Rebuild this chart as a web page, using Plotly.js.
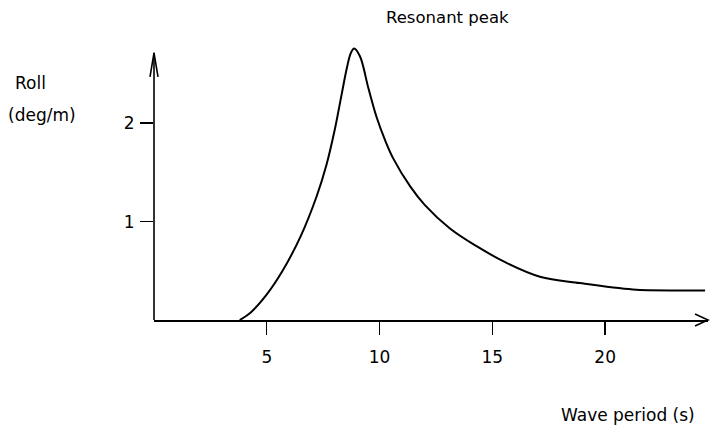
<!DOCTYPE html>
<html>
<head>
<meta charset="utf-8">
<script src="https://cdn.plot.ly/plotly-3.0.1.min.js"></script>
<style>
  html, body { margin: 0; padding: 0; background: #fff; }
  #chart { width: 714px; height: 428px; }
</style>
</head>
<body>
<div id="chart"></div>
<script>
// Roll response per metre of wave height against wave period
const wavePeriod = [3.8, 4.3, 5.0, 5.7, 6.5, 7.2, 7.65, 8.0, 8.3, 8.55, 8.72, 8.87, 9.13, 9.5, 9.87,
                    10.24, 10.61, 11.35, 12.0, 13.12, 14.3, 15.63, 17.11, 18.88, 21.23, 23.32, 24.43];
const rollPerMetre = [0.0, 0.08, 0.26, 0.5, 0.85, 1.25, 1.58, 1.92, 2.27, 2.56, 2.71, 2.76, 2.68, 2.36, 2.06,
                      1.83, 1.64, 1.36, 1.17, 0.93, 0.75, 0.58, 0.44, 0.375, 0.31, 0.3, 0.3];
const xTicks = [5, 10, 15, 20];
const yTicks = [1, 2];

const xMax = 24.56;      // end of the period axis (arrow tip)
const yMax = 2.896;      // top of the plotting area
const yAxisTop = 2.715;  // end of the roll axis (arrow tip)
const font = 'DejaVu Sans, Liberation Sans, sans-serif';

const trace = {
  x: wavePeriod,
  y: rollPerMetre,
  type: 'scatter',
  mode: 'lines',
  line: { color: '#000', width: 2, shape: 'spline', smoothing: 1 },
  hoverinfo: 'skip'
};

const axisCommon = {
  showgrid: false,
  zeroline: false,
  ticks: 'outside',
  ticklen: 13,
  tickwidth: 1.4,
  tickcolor: '#000',
  tickfont: { family: font, size: 17, color: '#000' },
  fixedrange: true
};

const yTipPaper = yAxisTop / yMax;

const layout = {
  width: 714,
  height: 428,
  margin: { l: 154, r: 6, t: 35, b: 108 },
  paper_bgcolor: '#fff',
  plot_bgcolor: '#fff',
  showlegend: false,
  xaxis: Object.assign({}, axisCommon, {
    range: [0, xMax],
    showline: true,
    linecolor: '#000',
    linewidth: 1.6,
    tickvals: xTicks,
    ticktext: xTicks.map(String),
    ticklabelstandoff: 8
  }),
  yaxis: Object.assign({}, axisCommon, {
    range: [0, yMax],
    showline: false,
    tickvals: yTicks,
    ticktext: yTicks.map(String),
    ticklabelstandoff: 2
  }),
  shapes: [
    // roll axis, stopping at its arrow tip
    {
      type: 'line', xref: 'paper', yref: 'paper',
      x0: 0, x1: 0, y0: 0, y1: yTipPaper,
      line: { color: '#000', width: 1.6 }
    },
    // open arrowhead at the end of the period axis
    {
      type: 'path', xref: 'paper', yref: 'paper',
      xsizemode: 'pixel', ysizemode: 'pixel',
      xanchor: 1, yanchor: 0,
      path: 'M-13,-6 L0,0 L-13,6',
      line: { color: '#000', width: 1.6 }
    },
    // narrow arrowhead at the top of the roll axis
    {
      type: 'path', xref: 'paper', yref: 'paper',
      xsizemode: 'pixel', ysizemode: 'pixel',
      xanchor: 0, yanchor: yTipPaper,
      path: 'M-4,-24 L0,0 L4,-24',
      line: { color: '#000', width: 1.6 }
    }
  ],
  annotations: [
    {
      text: 'Resonant peak', xref: 'paper', yref: 'paper',
      x: 0.530, y: 1.0624, xanchor: 'center', yanchor: 'middle',
      showarrow: false, font: { family: font, size: 16.5, color: '#000' }
    },
    {
      text: 'Roll', xref: 'paper', yref: 'paper',
      x: -0.2226, y: 0.832, xanchor: 'center', yanchor: 'middle',
      showarrow: false, font: { family: font, size: 17, color: '#000' }
    },
    {
      text: '(deg/m)', xref: 'paper', yref: 'paper',
      x: -0.203, y: 0.720, xanchor: 'center', yanchor: 'middle',
      showarrow: false, font: { family: font, size: 17, color: '#000' }
    },
    {
      text: 'Wave period (s)', xref: 'paper', yref: 'paper',
      x: 0.855, y: -0.335, xanchor: 'center', yanchor: 'middle',
      showarrow: false, font: { family: font, size: 17, color: '#000' }
    }
  ]
};

Plotly.newPlot('chart', [trace], layout, { displayModeBar: false, staticPlot: true });
</script>
</body>
</html>
